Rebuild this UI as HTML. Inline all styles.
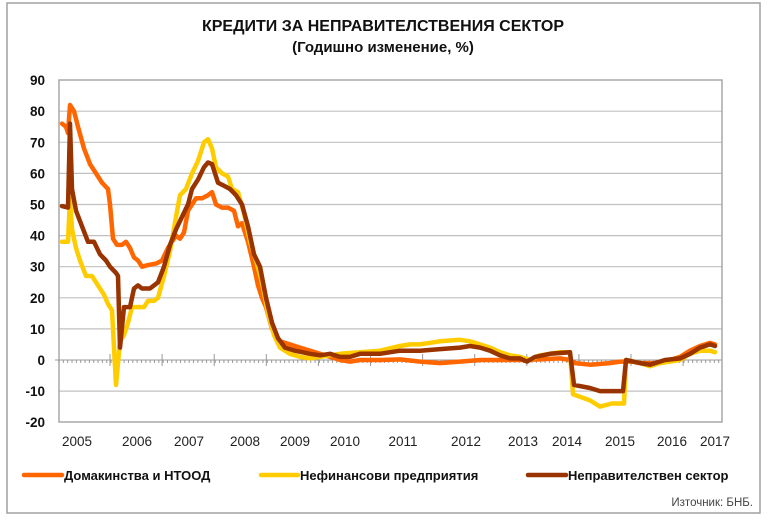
<!DOCTYPE html>
<html><head><meta charset="utf-8"><style>
body{margin:0;background:#fff;}
svg{display:block;font-family:"Liberation Sans",Arial,sans-serif;}
</style></head><body>
<svg width="768" height="522" viewBox="0 0 768 522" xmlns="http://www.w3.org/2000/svg">
<rect x="0" y="0" width="768" height="522" fill="#fff"/>
<rect x="7" y="3" width="753" height="510" fill="#fff" stroke="#a0a0a0" stroke-width="1.5"/>
<text x="383" y="31" text-anchor="middle" font-size="16" font-weight="bold" fill="#111">КРЕДИТИ ЗА НЕПРАВИТЕЛСТВЕНИЯ СЕКТОР</text>
<text x="383" y="52" text-anchor="middle" font-size="15" font-weight="bold" fill="#111">(Годишно изменение, %)</text>
<g id="grid" stroke="#c0c0c0" stroke-width="1.2"></g>
<rect x="59" y="80" width="663" height="342" fill="none" stroke="#a8a8a8" stroke-width="1.5"/>
<g id="ylab" font-size="13.5" font-weight="bold" fill="#111" text-anchor="end"></g>
<g id="ticks" stroke="#999" stroke-width="1"></g>
<g font-size="13.5" fill="#222" text-anchor="middle">
<text x="77" y="446">2005</text><text x="137" y="446">2006</text><text x="189" y="446">2007</text>
<text x="245" y="446">2008</text><text x="295" y="446">2009</text><text x="345" y="446">2010</text>
<text x="403" y="446">2011</text><text x="466" y="446">2012</text><text x="523" y="446">2013</text>
<text x="567" y="446">2014</text><text x="620" y="446">2015</text><text x="672" y="446">2016</text>
<text x="715" y="446">2017</text>
</g>
<g id="series" fill="none" stroke-width="4.5" stroke-linejoin="round" stroke-linecap="round"></g>
<g font-size="13" font-weight="bold" fill="#111">
<line x1="24" y1="475" x2="62" y2="475" stroke="#ff6600" stroke-width="4.5" stroke-linecap="round"/>
<text x="64" y="480">Домакинства и НТООД</text>
<line x1="261" y1="475" x2="298" y2="475" stroke="#ffcc00" stroke-width="4.5" stroke-linecap="round"/>
<text x="300" y="480">Нефинансови предприятия</text>
<line x1="528" y1="475" x2="566" y2="475" stroke="#993300" stroke-width="4.5" stroke-linecap="round"/>
<text x="568" y="480">Неправителствен сектор</text>
</g>
<text x="753" y="506" text-anchor="end" font-size="11.5" fill="#444">Източник: БНБ.</text>
<script>
var ns="http://www.w3.org/2000/svg";
function Y(v){return 360-v*3.11;}
var g=document.getElementById("grid"),yl=document.getElementById("ylab");
for(var v=-20;v<=90;v+=10){var y=Y(v);
 if(v!==-20&&v!==90&&v!==0){var l=document.createElementNS(ns,"line");l.setAttribute("x1",59);l.setAttribute("x2",722);l.setAttribute("y1",y);l.setAttribute("y2",y);g.appendChild(l);}
 var t=document.createElementNS(ns,"text");t.setAttribute("x",45);t.setAttribute("y",y+5);t.textContent=v;yl.appendChild(t);}
var tk=document.getElementById("ticks");
function ln(p,x1,y1,x2,y2){var l=document.createElementNS(ns,"line");l.setAttribute("x1",x1);l.setAttribute("y1",y1);l.setAttribute("x2",x2);l.setAttribute("y2",y2);p.appendChild(l);}
ln(tk,55,360,722,360);
for(var x=59;x<=722;x+=4.34)ln(tk,x,360,x,363);
for(var k=0;k<12;k++){var x=110+52.1*k;if(x<722)ln(tk,x,354,x,366);}
var O=[[62,76],[66,75],[68,73],[70,82],[74,80],[78,75],[84,68],[90,63],[96,60],[102,57],[108,55],[110,50],[113,39],[117,37],[122,37],[126,38],[130,36],[134,33],[138,32],[142,30],[148,30.5],[156,31],[162,32],[168,36],[172,38],[176,40],[180,39],[184,41],[188,48],[192,50],[196,52],[202,52],[208,53],[212,54],[216,50],[222,49],[228,49],[234,48],[238,43],[242,44],[248,38],[254,30],[258,24],[262,20],[266,17],[272,10],[280,6],[290,5],[300,4],[310,3],[320,2],[330,1],[340,0],[350,-0.5],[360,0],[380,0],[400,0.2],[420,-0.5],[440,-1],[460,-0.5],[480,0],[500,0],[520,0],[540,0.2],[560,0.5],[570,0],[575,-1],[590,-1.5],[610,-1],[620,-0.5],[632,-0.5],[640,-1],[655,-1],[670,0],[680,1],[690,3],[700,4.5],[710,5.5],[715,5]];
var Yl=[[62,38],[68,38],[70,52],[72,42],[76,36],[80,32],[86,27],[92,27],[98,24],[104,21],[108,18],[112,16],[116,-8],[120,6],[124,8],[128,12],[132,17],[138,17],[144,17],[148,19],[154,19],[158,20],[164,27],[170,35],[176,46],[180,53],[186,55],[192,60],[198,64],[204,70],[208,71],[212,68],[216,62],[222,60],[228,59],[232,55],[238,54],[244,47],[250,38],[256,32],[262,25],[268,15],[274,8],[280,4],[290,2],[300,1],[310,0.5],[320,1],[330,1.5],[340,2],[360,2.5],[380,3],[400,4.5],[410,5],[420,5],[440,6],[460,6.5],[470,6],[480,5],[490,4],[500,2.5],[510,1.5],[520,1],[530,0],[540,1.5],[560,2.5],[570,2.5],[573,-11],[590,-13],[600,-15],[612,-14],[624,-14],[626,0],[640,-1],[650,-2],[660,-1],[680,0],[690,2],[700,3],[710,3],[715,2.5]];
var B=[[62,49.5],[68,49],[70,76],[72,55],[76,48],[82,43],[88,38],[94,38],[100,34],[106,32],[110,30],[116,28],[118,27],[120,4],[124,17],[130,17],[134,23],[138,24],[142,23],[150,23],[158,25],[164,30],[170,37],[176,42],[182,46],[188,50],[192,55],[198,58],[204,62],[208,63.5],[212,63],[218,57],[224,56],[230,55],[236,53],[242,50],[248,43],[254,34],[260,30],[266,20],[272,12],[278,7],[285,4],[295,3],[310,2],[320,1.5],[330,2],[340,1],[350,1],[360,2],[380,2],[400,3],[420,3],[440,3.5],[460,4],[470,4.5],[480,4],[490,3],[500,1.5],[510,0.5],[520,0.5],[527,-0.5],[535,1],[550,2],[570,2.5],[574,-8],[590,-9],[600,-10],[612,-10],[623,-10],[626,0],[640,-1],[650,-1.5],[665,0],[680,0.5],[690,2],[700,4],[710,5],[715,4.5]];
var s=document.getElementById("series");
[[O,"#ff6600"],[Yl,"#ffcc00"],[B,"#993300"]].forEach(function(d){
 var p=document.createElementNS(ns,"path");
 p.setAttribute("d","M"+d[0].map(function(q){return q[0]+","+Y(q[1]).toFixed(1);}).join(" L"));
 p.setAttribute("stroke",d[1]);s.appendChild(p);});
</script>
</svg>
</body></html>
